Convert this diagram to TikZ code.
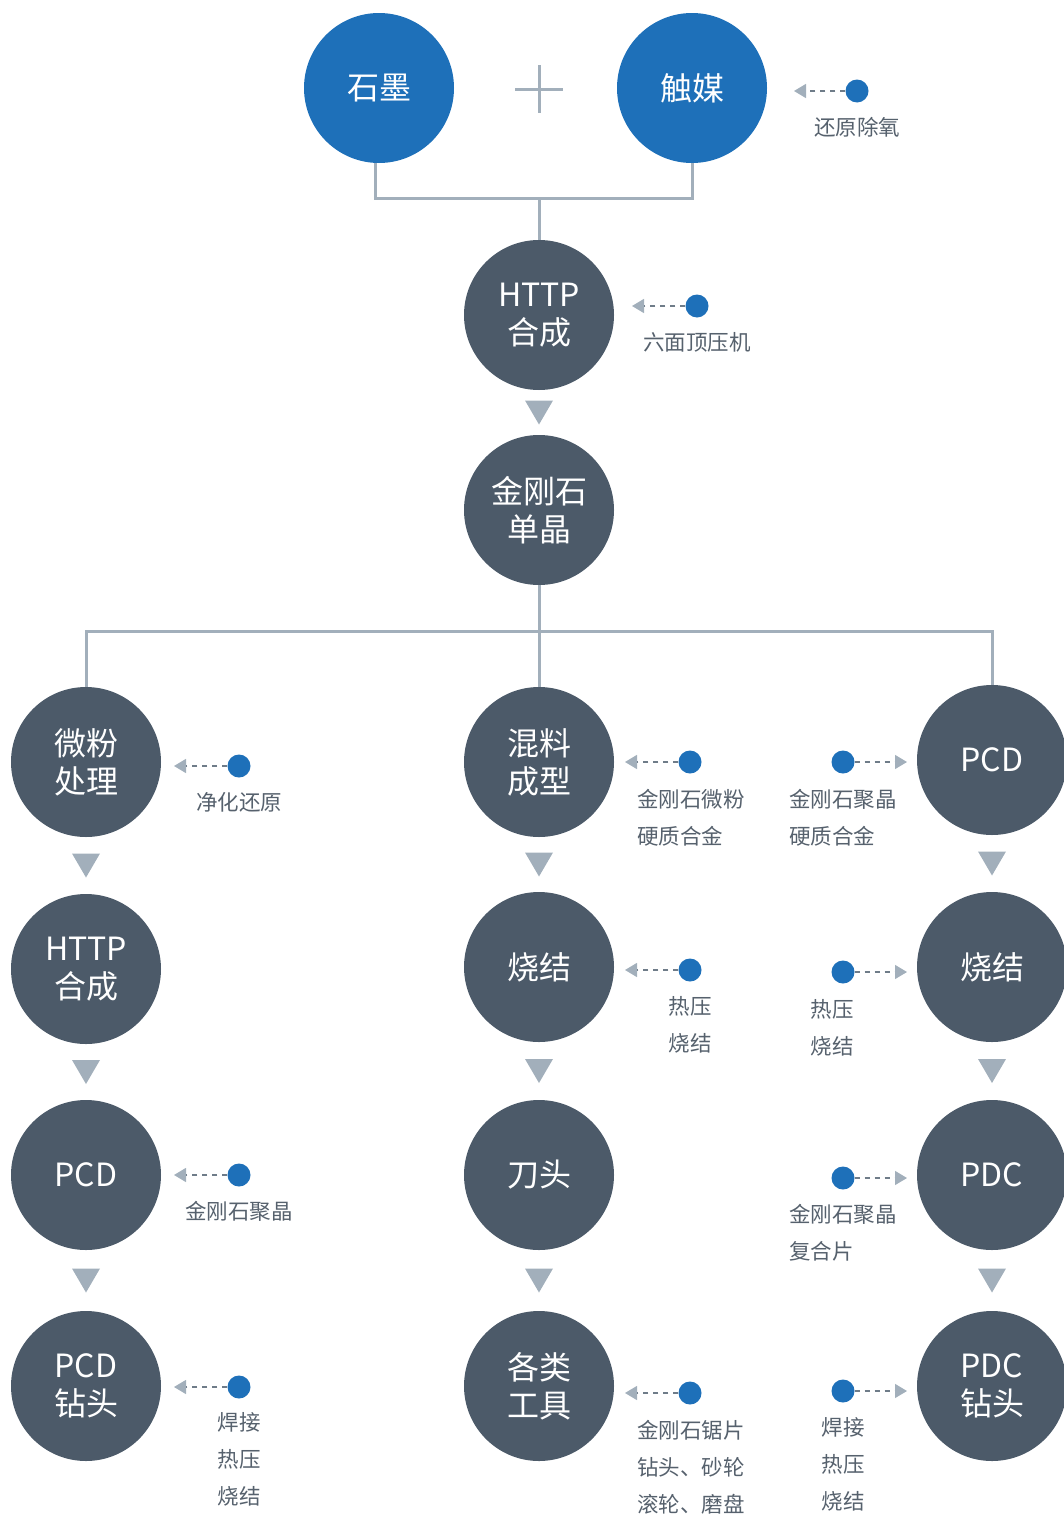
\documentclass[tikz,border=0pt]{standalone}
\usepackage{fontspec}
\setmainfont{Noto Sans CJK SC}
\usetikzlibrary{arrows.meta,calc}
\definecolor{cblue}{HTML}{1E70B9}
\definecolor{cdark}{HTML}{4C5A69}
\definecolor{cline}{HTML}{A2AFBB}
\definecolor{ctext}{HTML}{56616D}
\definecolor{cdash}{HTML}{6F7C89}
\definecolor{ctip}{HTML}{A2AFBB}
\tikzset{
  bigc/.style={circle,minimum size=150pt,inner sep=0pt,text=white,align=center,
    font=\fontsize{32}{38}\selectfont},
  bluec/.style={bigc,fill=cblue},
  darkc/.style={bigc,fill=cdark},
  conn/.style={draw=cline,line width=3pt},
  dotn/.style={circle,fill=cblue,minimum size=23pt,inner sep=0pt},
  dasharr/.style={draw=cdash,line width=1.3pt,dash pattern=on 5pt off 5pt,
    -{Triangle[length=12pt,width=14pt,color=ctip]}},
  note/.style={text=ctext,font=\fontsize{21.5}{37}\selectfont,inner sep=0pt,align=center},
  notel/.style={text=ctext,font=\fontsize{21.5}{37}\selectfont,inner sep=0pt,align=left},
  trif/.style={fill=cline},
}
\begin{document}
\begin{tikzpicture}[x=1pt,y=-1pt]
\useasboundingbox (0,0) rectangle (1064,1515);
% top
\node[bluec] (shimo) at (379,88) {石墨};
\node[bluec] (chumei) at (692,88) {触媒};
\draw[cline,line width=3pt] (515,89) -- (563,89) (539,65) -- (539,113);
\coordinate (j1) at (539,198);
\node[darkc] (http1) at (539,315) {HTTP\\合成};
\draw[conn] ([xshift=-4pt]shimo.south) |- (chumei.south |- j1) -- (chumei.south);
\draw[conn] (j1) -- (http1.north);
\node[darkc] (jgs) at (539,510) {金刚石\\单晶};
\coordinate (j2) at (539,631);
% row 1
\node[darkc] (wf) at (86,762) {微粉\\处理};
\node[darkc] (hl) at (539,762) {混料\\成型};
\node[darkc] (pcdA) at (992,760) {PCD};
\draw[conn] (jgs.south) -- (j2);
\draw[conn] (j2) -- (hl.north);
\draw[conn] (wf.north) |- (pcdA.north |- j2) -- (pcdA.north);
% row 2
\node[darkc] (http2) at (86,969) {HTTP\\合成};
\node[darkc] (sjM) at (539,967) {烧结};
\node[darkc] (sjR) at (992,967) {烧结};
% row 3
\node[darkc] (pcdL) at (86,1175) {PCD};
\node[darkc] (dt) at (539,1175) {刀头};
\node[darkc] (pdc) at (992,1175) {PDC};
% row 4
\node[darkc] (pcdzt) at (86,1386) {PCD\\钻头};
\node[darkc] (glgj) at (539,1386) {各类\\工具};
\node[darkc] (pdczt) at (992,1386) {PDC\\钻头};
% triangles
\foreach \a/\b in {http1/jgs,wf/http2,http2/pcdL,pcdL/pcdzt,hl/sjM,sjM/dt,dt/glgj,pcdA/sjR,sjR/pdc,pdc/pdczt}{
  \fill[trif] ($(\a.south)!.5!(\b.north)$) ++(-14,-12) -- ++(28,0) -- ++(-14,24) -- cycle;
}
% annotations
\node[dotn] (d1) at (857,91) {};
\coordinate (e1) at (794,91);
\draw[dasharr] (d1) -- (e1);
\node[note,anchor=north] (t1) at (857,117) {还原除氧};

\node[dotn] (d2) at (697,306) {};
\coordinate (e2) at (632,306);
\draw[dasharr] (d2) -- (e2);
\node[note,anchor=north] (t2) at (697,332) {六面顶压机};

\node[dotn] (d3) at (239,766) {};
\coordinate (e3) at (174,766);
\draw[dasharr] (d3) -- (e3);
\node[note,anchor=north] (t3) at (239,792) {净化还原};

\node[dotn] (d4) at (690,762) {};
\coordinate (e4) at (625,762);
\draw[dasharr] (d4) -- (e4);
\node[notel,anchor=north west] (t4) at (637,789) {金刚石微粉\\硬质合金};

\node[dotn] (d5) at (843,762) {};
\coordinate (e5) at (907,762);
\draw[dasharr] (d5) -- (e5);
\node[notel,anchor=north west] (t5) at (789,789) {金刚石聚晶\\硬质合金};

\node[dotn] (d6) at (690,970) {};
\coordinate (e6) at (625,970);
\draw[dasharr] (d6) -- (e6);
\node[note,anchor=north] (t6) at (690,996) {热压\\烧结};

\node[dotn] (d7) at (843,972) {};
\coordinate (e7) at (907,972);
\draw[dasharr] (d7) -- (e7);
\node[note,anchor=north] (t7) at (832,999) {热压\\烧结};

\node[dotn] (d8) at (239,1175) {};
\coordinate (e8) at (174,1175);
\draw[dasharr] (d8) -- (e8);
\node[note,anchor=north] (t8) at (239,1201) {金刚石聚晶};

\node[dotn] (d9) at (843,1178) {};
\coordinate (e9) at (907,1178);
\draw[dasharr] (d9) -- (e9);
\node[notel,anchor=north west] (t9) at (789,1204) {金刚石聚晶\\复合片};

\node[dotn] (d10) at (239,1387) {};
\coordinate (e10) at (174,1387);
\draw[dasharr] (d10) -- (e10);
\node[note,anchor=north] (t10) at (239,1412) {焊接\\热压\\烧结};

\node[dotn] (d11) at (690,1393) {};
\coordinate (e11) at (625,1393);
\draw[dasharr] (d11) -- (e11);
\node[notel,anchor=north west] (t11) at (637,1420) {金刚石锯片\\钻头、砂轮\\滚轮、磨盘};

\node[dotn] (d12) at (843,1391) {};
\coordinate (e12) at (907,1391);
\draw[dasharr] (d12) -- (e12);
\node[note,anchor=north] (t12) at (843,1417) {焊接\\热压\\烧结};
\end{tikzpicture}
\end{document}
